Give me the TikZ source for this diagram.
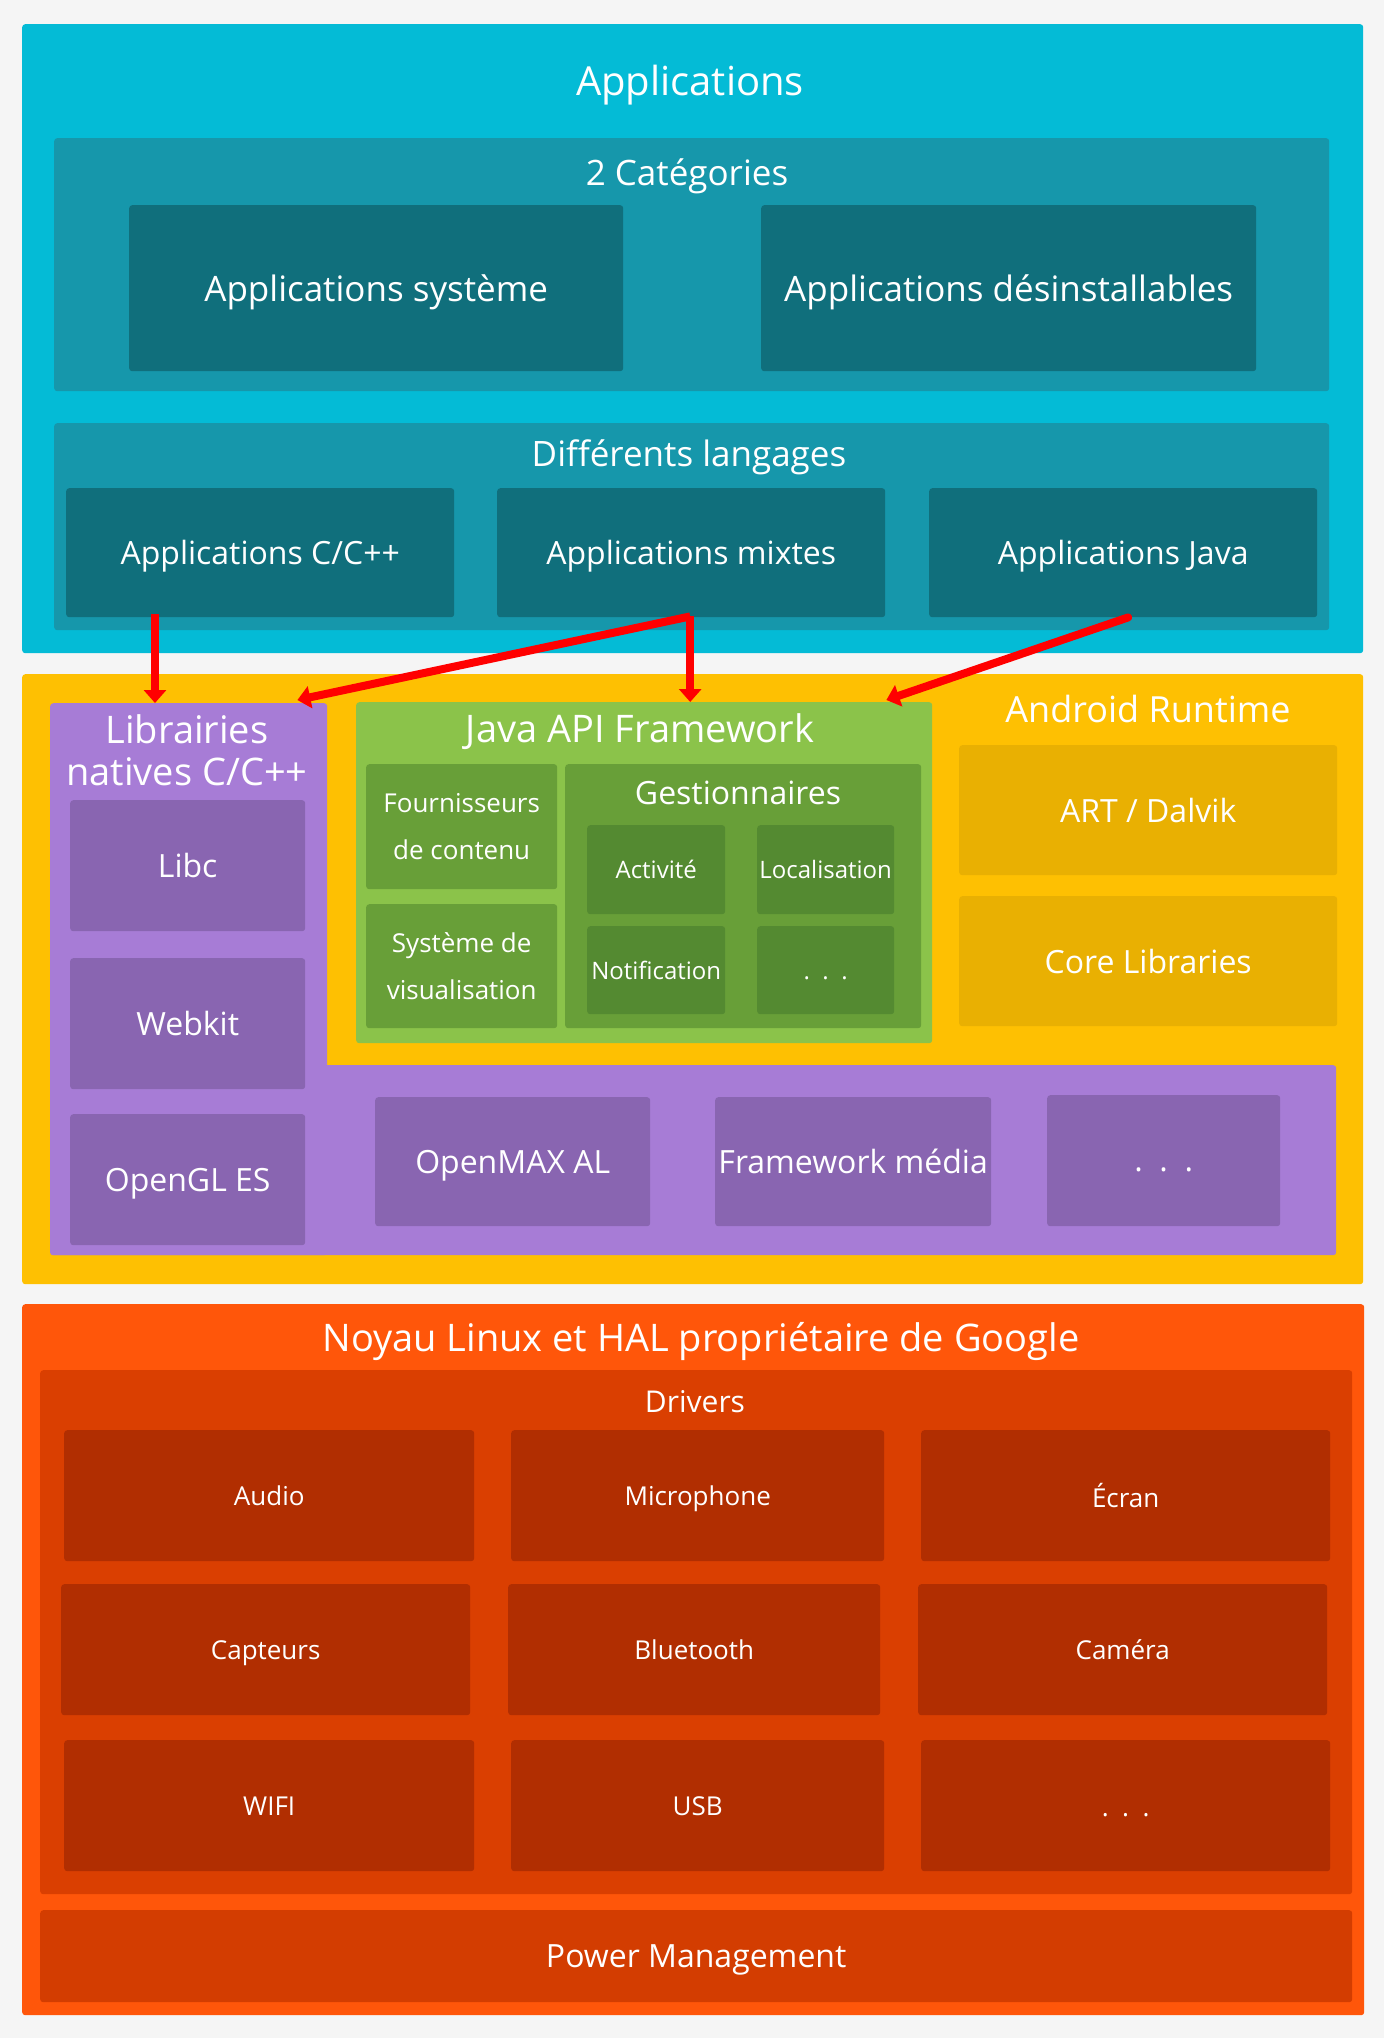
\documentclass[tikz,border=0pt]{standalone}
\usepackage{fontspec}
\setmainfont{Open Sans}
\usetikzlibrary{arrows.meta}
\usetikzlibrary{positioning}

\definecolor{pagebg}{HTML}{F5F5F5}
\definecolor{appmain}{HTML}{04BBD6}
\definecolor{apppanel}{HTML}{1697AB}
\definecolor{appbox}{HTML}{106F7C}
\definecolor{fwmain}{HTML}{FEC002}
\definecolor{rtbox}{HTML}{E9B002}
\definecolor{libmain}{HTML}{A77CD6}
\definecolor{libbox}{HTML}{8965B1}
\definecolor{apimain}{HTML}{8BC34A}
\definecolor{apipanel}{HTML}{689F38}
\definecolor{apibox}{HTML}{548A31}
\definecolor{kermain}{HTML}{FF560A}
\definecolor{kerpanel}{HTML}{DA3F01}
\definecolor{kerbox}{HTML}{B12E01}
\definecolor{flowred}{HTML}{FF0000}

\tikzset{
  layer/.style={fill=#1,rounded corners=3pt,inner sep=0pt,anchor=north west},
  blk/.style={fill=#1,rounded corners=3pt,inner sep=0pt,anchor=north west,text=white,align=center,text depth=0pt},
  wh/.style 2 args={minimum width=#1pt,minimum height=#2pt},
  fsz/.style 2 args={font=\fontsize{#1}{#2}\selectfont},
  ttl/.style={text=white,anchor=base,inner sep=0pt,align=center},
  flow/.style={draw=flowred,line width=8pt,-{Triangle[width=22pt,length=13pt]}}
}

\begin{document}
\begin{tikzpicture}[x=1pt,y=-1pt]
\useasboundingbox (0,0) rectangle (1384,2038);
\fill[pagebg] (0,0) rectangle (1384,2038);

% Applications
\node[layer=appmain,wh={1341}{629}] (apps) at (22,24) {};
\node[ttl,fsz={40}{48}] (appstitle) at (690,95) {Applications};
\node[layer=apppanel,wh={1275}{253}] (cats) at (54,138) {};
\node[ttl,fsz={35}{42}] (catstitle) at (687,185) {2 Catégories};
\node[blk=appbox,wh={494}{166},fsz={35}{42}] (sysapps) at (129,205) {Applications système};
\node[blk=appbox,wh={495}{166},fsz={35}{42}] (userapps) at (761,205) {Applications désinstallables};
\node[layer=apppanel,wh={1275}{207}] (langs) at (54,423) {};
\node[ttl,fsz={35}{42}] (langstitle) at (689,466) {Différents langages};
\node[blk=appbox,wh={388}{129},fsz={32}{38}] (ccpp) at (66,488) {Applications C/C++};
\node[blk=appbox,wh={388}{129},fsz={32}{38}] (mixed) at (497,488) {Applications mixtes};
\node[blk=appbox,wh={388}{129},fsz={32}{38}] (java) at (929,488) {Applications Java};

% Framework, librairies, runtime
\node[layer=fwmain,wh={1341}{610}] (fw) at (22,674) {};
\node[layer=libmain,wh={277}{552}] (natlib) at (50,703) {};
\node[layer=libmain,wh={1286}{190}] (libband) at (50,1065) {};
\node[ttl,fsz={38}{42}] (natlibtitle) at (187,785) {Librairies\\natives C/C++};
\node[blk=libbox,wh={235}{131},fsz={32}{38}] (libc) at (70,800) {Libc};
\node[blk=libbox,wh={235}{131},fsz={32}{38}] (webkit) at (70,958) {Webkit};
\node[blk=libbox,wh={235}{131},fsz={32}{38}] (opengl) at (70,1114) {OpenGL ES};
\node[blk=libbox,wh={275}{129},fsz={32}{38}] (openmax) at (375,1097) {OpenMAX AL};
\node[blk=libbox,wh={276}{129},fsz={32}{38}] (media) at (715,1097) {Framework média};
\node[blk=libbox,wh={233}{131},fsz={32}{38},text height=22pt] (libmore) at (1047,1095) {.\ \ .\ \ .};

\node[layer=apimain,wh={576}{341}] (javaapi) at (356,702) {};
\node[ttl,fsz={38}{46}] (javaapititle) at (640,742) {Java API Framework};
\node[blk=apipanel,wh={191}{125},fsz={26}{47}] (providers) at (366,764) {Fournisseurs\\de contenu};
\node[blk=apipanel,wh={191}{124},fsz={26}{47}] (views) at (366,904) {Système de\\visualisation};
\node[layer=apipanel,wh={356}{264}] (managers) at (565,764) {};
\node[ttl,fsz={32}{38}] (managerstitle) at (738,804) {Gestionnaires};
\node[blk=apibox,wh={138}{89},fsz={24}{29}] (activity) at (587,825) {Activité};
\node[blk=apibox,wh={137}{89},fsz={24}{29}] (location) at (757,825) {Localisation};
\node[blk=apibox,wh={138}{88},fsz={24}{29}] (notif) at (587,926) {Notification};
\node[blk=apibox,wh={137}{88},fsz={24}{29},text height=18pt] (mgrmore) at (757,926) {.\ \ .\ \ .};

\node[ttl,fsz={36}{43}] (runtimetitle) at (1148,722) {Android Runtime};
\node[blk=rtbox,wh={378}{130},fsz={32}{38}] (art) at (959,745) {ART / Dalvik};
\node[blk=rtbox,wh={378}{130},fsz={32}{38}] (corelib) at (959,896) {Core Libraries};

% Noyau
\node[layer=kermain,wh={1342}{711}] (kernel) at (22,1304) {};
\node[ttl,fsz={38}{46}] (kerneltitle) at (701,1351) {Noyau Linux et HAL propriétaire de Google};
\node[layer=kerpanel,wh={1312}{524}] (drivers) at (40,1370) {};
\node[ttl,fsz={30}{36}] (driverstitle) at (695,1412) {Drivers};
\node[blk=kerbox,wh={410}{131},fsz={26}{31}] (audio) at (64,1430) {Audio};
\node[blk=kerbox,wh={373}{131},fsz={26}{31}] (micro) at (511,1430) {Microphone};
\node[blk=kerbox,wh={409}{131},fsz={26}{31}] (screen) at (921,1430) {Écran};
\node[blk=kerbox,wh={409}{131},fsz={26}{31}] (sensors) at (61,1584) {Capteurs};
\node[blk=kerbox,wh={372}{131},fsz={26}{31}] (bt) at (508,1584) {Bluetooth};
\node[blk=kerbox,wh={409}{131},fsz={26}{31}] (camera) at (918,1584) {Caméra};
\node[blk=kerbox,wh={410}{131},fsz={26}{31}] (wifi) at (64,1740) {WIFI};
\node[blk=kerbox,wh={373}{131},fsz={26}{31}] (usb) at (511,1740) {USB};
\node[blk=kerbox,wh={409}{131},fsz={26}{31},text height=22pt] (drvmore) at (921,1740) {.\ \ .\ \ .};
\node[blk=kerpanel!97!black,wh={1312}{92},fsz={32}{38}] (power) at (40,1910) {Power Management};

% fleches
\coordinate (mixout) at ([xshift=-1pt,yshift=1pt]mixed.south);
\draw[flow] ([xshift=89pt,yshift=3pt]ccpp.south west) -- ([xshift=105pt]natlib.north west);
\draw[flow] (mixout) -- ([xshift=-30pt,yshift=3pt]natlib.north east);
\draw[flow] (mixout) -- (mixout |- javaapi.north);
\draw[flow,line cap=round] ([xshift=5pt]java.south) -- ([xshift=-46pt,yshift=2pt]javaapi.north east);

\end{tikzpicture}
\end{document}
